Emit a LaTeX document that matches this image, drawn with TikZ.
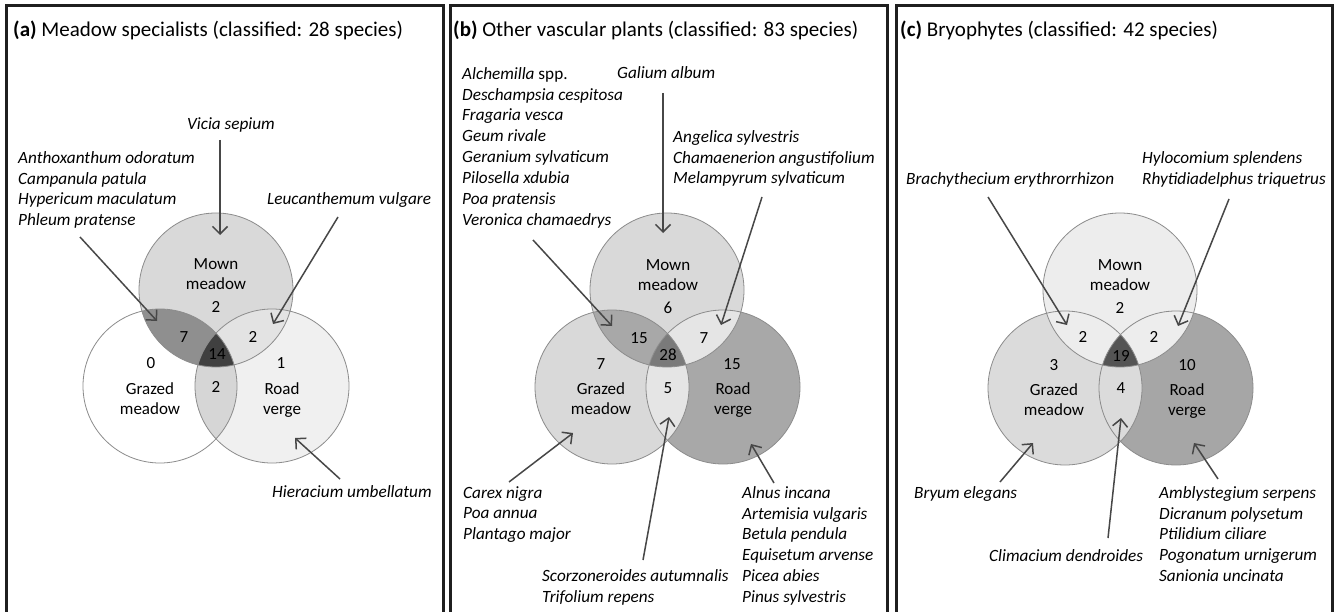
\documentclass[tikz,border=0pt]{standalone}
\usepackage{fontspec}
\setmainfont{Carlito}
\usetikzlibrary{arrows.meta}

% region shades: m = mown, g = grazed, r = road
\definecolor{am}{gray}{0.85}
\definecolor{ag}{gray}{1.00}
\definecolor{ar}{gray}{0.94}
\definecolor{amg}{gray}{0.56}
\definecolor{amr}{gray}{0.89}
\definecolor{agr}{gray}{0.84}
\definecolor{amgr}{gray}{0.25}
\definecolor{bm}{gray}{0.85}
\definecolor{bg}{gray}{0.85}
\definecolor{br}{gray}{0.66}
\definecolor{bmg}{gray}{0.66}
\definecolor{bmr}{gray}{0.90}
\definecolor{bgr}{gray}{0.90}
\definecolor{bmgr}{gray}{0.48}
\definecolor{cm}{gray}{0.93}
\definecolor{cg}{gray}{0.86}
\definecolor{cr}{gray}{0.65}
\definecolor{cmg}{gray}{0.93}
\definecolor{cmr}{gray}{0.93}
\definecolor{cgr}{gray}{0.86}
\definecolor{cmgr}{gray}{0.33}

\newcommand{\vennfill}[1]{%
  \fill[fill=#1m] (#1-m) circle[radius=77bp];
  \fill[fill=#1g] (#1-g) circle[radius=77bp];
  \fill[fill=#1r] (#1-r) circle[radius=77bp];
  \begin{scope}
    \clip (#1-m) circle[radius=77bp];
    \fill[fill=#1mg] (#1-g) circle[radius=77bp];
    \fill[fill=#1mr] (#1-r) circle[radius=77bp];
  \end{scope}
  \begin{scope}
    \clip (#1-g) circle[radius=77bp];
    \fill[fill=#1gr] (#1-r) circle[radius=77bp];
    \clip (#1-r) circle[radius=77bp];
    \fill[fill=#1mgr] (#1-m) circle[radius=77bp];
  \end{scope}
  \draw[ring] (#1-m) circle[radius=77bp] (#1-g) circle[radius=77bp]
    (#1-r) circle[radius=77bp];}

\begin{document}
\begin{tikzpicture}[x=1bp, y=-1bp,
    every node/.style={inner sep=0pt},
    panel/.style={draw=black!88, line width=3bp},
    ring/.style={draw=black!45, line width=0.8bp},
    pointer/.style={draw=black!72, line width=1.5bp,
      -{Straight Barb[length=7.5bp,width=15bp]}},
    title/.style={anchor=base west, font=\fontsize{21bp}{24bp}\selectfont},
    species/.style={align=left, anchor=north west,
      font=\fontsize{17.2bp}{20.9bp}\selectfont\itshape},
    oneline/.style={anchor=base west,
      font=\fontsize{17.2bp}{20.9bp}\selectfont\itshape},
    setname/.style={anchor=base, font=\fontsize{17bp}{20bp}\selectfont},
    count/.style={font=\fontsize{17bp}{20bp}\selectfont}]
\useasboundingbox[fill=white] (0,0) rectangle (1335,612);

% panels
\draw[panel] (6.5,5.5) rectangle (443,615);
\draw[panel] (450,5.5) rectangle (887.5,615);
\draw[panel] (896,5.5) rectangle (1332.5,615);

\node[title] (a-title) at (13,37) {\textbf{(a)} Meadow specialists (classified: 28 species)};
\node[title] (b-title) at (453,37) {\textbf{(b)} Other vascular plants (classified: 83 species)};
\node[title] (c-title) at (900,37) {\textbf{(c)} Bryophytes (classified: 42 species)};

% venn circles
\coordinate (a-m) at (216,290);
\coordinate (a-g) at (160,386);
\coordinate (a-r) at (272,386);
\coordinate (b-m) at (667,290);
\coordinate (b-g) at (612,387);
\coordinate (b-r) at (723,387);
\coordinate (c-m) at (1120,290);
\coordinate (c-g) at (1065,388);
\coordinate (c-r) at (1176,388);
\vennfill{a}
\vennfill{b}
\vennfill{c}

% (a) counts
\node[setname] (a-mown) at (216,269) {Mown};
\node[setname] (a-mown2) at (216,289) {meadow};
\node[count] (a-n-m) at (216,307) {2};
\node[count] (a-n-mg) at (184,337) {7};
\node[count] (a-n-mr) at (253,337) {2};
\node[count] (a-n-mgr) at (217,354.5) {14};
\node[count] (a-n-g) at (151,363) {0};
\node[setname] (a-graz) at (150,394) {Grazed};
\node[setname] (a-graz2) at (150,414) {meadow};
\node[count] (a-n-gr) at (216,387) {2};
\node[count] (a-n-r) at (281,363) {1};
\node[setname] (a-road) at (282,394) {Road};
\node[setname] (a-road2) at (282,414) {verge};

% (a) species
\node[oneline] (a-vicia) at (187,130) {Vicia sepium};
\node[species] (a-anth) at (18,151) {Anthoxanthum odoratum\\Campanula patula\\Hypericum maculatum\\Phleum pratense};
\node[oneline] (a-leuc) at (267,204) {Leucanthemum vulgare};
\node[oneline] (a-hier) at (272,497) {Hieracium umbellatum};
\coordinate (a-vicia-s) at (220,140);
\coordinate (a-vicia-e) at (220,235);
\coordinate (a-anth-s) at (80,237);
\coordinate (a-anth-e) at (157,321);
\coordinate (a-leuc-s) at (338,217);
\coordinate (a-leuc-e) at (273,324);
\coordinate (a-hier-s) at (340,479);
\coordinate (a-hier-e) at (295,438);
\draw[pointer] (a-vicia-s) -- (a-vicia-e);
\draw[pointer] (a-anth-s) -- (a-anth-e);
\draw[pointer] (a-leuc-s) -- (a-leuc-e);
\draw[pointer] (a-hier-s) -- (a-hier-e);

% (b) counts
\node[setname] (b-mown) at (668,270) {Mown};
\node[setname] (b-mown2) at (668,290) {meadow};
\node[count] (b-n-m) at (668,308) {6};
\node[count] (b-n-mg) at (639,338) {15};
\node[count] (b-n-mr) at (704,338) {7};
\node[count] (b-n-mgr) at (668,355) {28};
\node[count] (b-n-g) at (601,364) {7};
\node[setname] (b-graz) at (601,394) {Grazed};
\node[setname] (b-graz2) at (601,414) {meadow};
\node[count] (b-n-gr) at (668,388) {5};
\node[count] (b-n-r) at (732,364) {15};
\node[setname] (b-road) at (733,394) {Road};
\node[setname] (b-road2) at (733,414) {verge};

% (b) species
\node[species] (b-alch) at (462,67) {\textit{Alchemilla} \upshape spp.\\Deschampsia cespitosa\\Fragaria vesca\\Geum rivale\\Geranium sylvaticum\\Pilosella xdubia\\Poa pratensis\\Veronica chamaedrys};
\node[oneline] (b-gal) at (617,79) {Galium album};
\node[species] (b-ang) at (673,130) {Angelica sylvestris\\Chamaenerion angustifolium\\Melampyrum sylvaticum};
\node[species] (b-car) at (463,486) {Carex nigra\\Poa annua\\Plantago major};
\node[species] (b-sco) at (542,569) {Scorzoneroides autumnalis\\Trifolium repens};
\node[species] (b-aln) at (742,486) {Alnus incana\\Artemisia vulgaris\\Betula pendula\\Equisetum arvense\\Picea abies\\Pinus sylvestris};
\coordinate (b-alch-s) at (533,240);
\coordinate (b-alch-e) at (612,326);
\coordinate (b-gal-s) at (663,93);
\coordinate (b-gal-e) at (663,233);
\coordinate (b-ang-s) at (762,197);
\coordinate (b-ang-e) at (721,325);
\coordinate (b-car-s) at (509,482);
\coordinate (b-car-e) at (573,433);
\coordinate (b-sco-s) at (643,560);
\coordinate (b-sco-e) at (669,417);
\coordinate (b-aln-s) at (774,483);
\coordinate (b-aln-e) at (751,444);
\draw[pointer] (b-alch-s) -- (b-alch-e);
\draw[pointer] (b-gal-s) -- (b-gal-e);
\draw[pointer] (b-ang-s) -- (b-ang-e);
\draw[pointer] (b-car-s) -- (b-car-e);
\draw[pointer] (b-sco-s) -- (b-sco-e);
\draw[pointer] (b-aln-s) -- (b-aln-e);

% (c) counts
\node[setname] (c-mown) at (1120,270) {Mown};
\node[setname] (c-mown2) at (1120,290) {meadow};
\node[count] (c-n-m) at (1120,308) {2};
\node[count] (c-n-mg) at (1083,337) {2};
\node[count] (c-n-mr) at (1154,337) {2};
\node[count] (c-n-mgr) at (1121,356) {19};
\node[count] (c-n-g) at (1054,365) {3};
\node[setname] (c-graz) at (1054,395) {Grazed};
\node[setname] (c-graz2) at (1054,415) {meadow};
\node[count] (c-n-gr) at (1121,388) {4};
\node[count] (c-n-r) at (1187,365) {10};
\node[setname] (c-road) at (1187,395) {Road};
\node[setname] (c-road2) at (1187,415) {verge};

% (c) species
\node[oneline] (c-bra) at (906,185) {Brachythecium erythrorrhizon};
\node[species] (c-hyl) at (1142,151) {Hylocomium splendens\\Rhytidiadelphus triquetrus};
\node[oneline] (c-bry) at (914,498) {Bryum elegans};
\node[oneline] (c-cli) at (989,561) {Climacium dendroides};
\node[species] (c-amb) at (1159,486) {Amblystegium serpens\\Dicranum polysetum\\Ptilidium ciliare\\Pogonatum urnigerum\\Sanionia uncinata};
\coordinate (c-bra-s) at (988,197);
\coordinate (c-bra-e) at (1067,325);
\coordinate (c-hyl-s) at (1229,199);
\coordinate (c-hyl-e) at (1178,326);
\coordinate (c-bry-s) at (1000,482);
\coordinate (c-bry-e) at (1033,443);
\coordinate (c-cli-s) at (1108,538);
\coordinate (c-cli-e) at (1121,418);
\coordinate (c-amb-s) at (1218,479);
\coordinate (c-amb-e) at (1194,443);
\draw[pointer] (c-bra-s) -- (c-bra-e);
\draw[pointer] (c-hyl-s) -- (c-hyl-e);
\draw[pointer] (c-bry-s) -- (c-bry-e);
\draw[pointer] (c-cli-s) -- (c-cli-e);
\draw[pointer] (c-amb-s) -- (c-amb-e);
\end{tikzpicture}
\end{document}
